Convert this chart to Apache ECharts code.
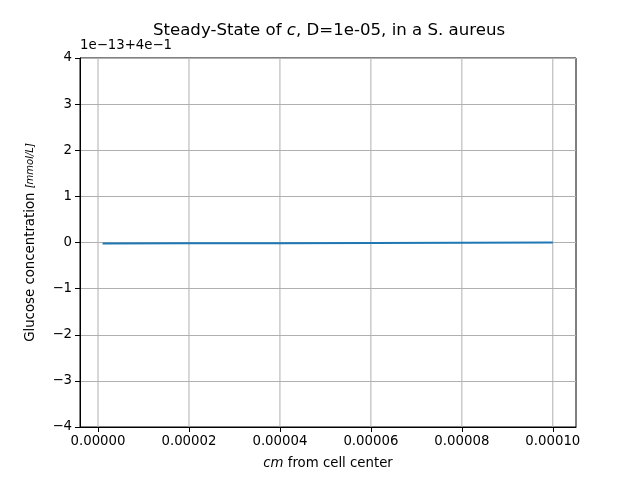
<!DOCTYPE html>
<html>
<head>
<meta charset="utf-8">
<script src="https://cdn.jsdelivr.net/npm/echarts@6/dist/echarts.min.js"></script>
<style>
  html, body { margin: 0; padding: 0; background: #fff; }
  #box { width: 640px; height: 480px; }
</style>
</head>
<body>
<div id="box"></div>
<script>
// distance from cell center (cm)
var xs = [0.000001, 0.00002, 0.00004, 0.00006, 0.00008, 0.0001];
// glucose concentration, in units of 1e-13, offset by 0.4
var cs = [-0.02, -0.018, -0.014, -0.009, -0.004, 0.001];
var xTicks = [0, 0.00002, 0.00004, 0.00006, 0.00008, 0.0001];
var xTickLabels = ['0.00000', '0.00002', '0.00004', '0.00006', '0.00008', '0.00010'];

var font = 'DejaVu Sans';
var yMin = -4, yMax = 4;
var data = [];
for (var i = 0; i < xs.length; i++) {
	data.push([xs[i], cs[i]]);
}

// vertical grid lines at the x ticks
var series = [];
for (var j = 0; j < xTicks.length; j++) {
	series.push({
		type: 'line',
		data: [[xTicks[j], yMin], [xTicks[j], yMax]],
		showSymbol: false,
		silent: true,
		lineStyle: { color: '#b0b0b0', width: 1 },
		z: 1
	});
}
series.push({
	type: 'line',
	data: data,
	showSymbol: false,
	lineStyle: { color: '#1f77b4', width: 2 },
	itemStyle: { color: '#1f77b4' },
	z: 3
});

var myChart = echarts.init(document.getElementById('box'));
var option = {
	animation: false,
	backgroundColor: '#fff',
	title: {
		text: '{n|Steady-State of }{i|c}{n|, D=1e-05, in a S. aureus}',
		left: 324,
		top: 17,
		textAlign: 'center',
		textStyle: {
			fontWeight: 'normal',
			rich: {
				n: { fontFamily: font, fontSize: 16.6, color: '#000', fontWeight: 'normal' },
				i: { fontFamily: font, fontSize: 16.6, color: '#000', fontStyle: 'italic', fontWeight: 'normal' }
			}
		}
	},
	graphic: [{
		type: 'text',
		left: 80,
		top: 39,
		style: { text: '1e\u221213+4e\u22121', font: '13.3px "DejaVu Sans"', fill: '#000' }
	}],
	grid: {
		left: 80, right: 64, top: 58, bottom: 53,
		show: true, borderColor: '#000', borderWidth: 1, backgroundColor: 'transparent'
	},
	xAxis: {
		type: 'value',
		min: -0.00000396,
		max: 0.0001051,
		name: '{i|cm}{n| from cell center}',
		nameLocation: 'middle',
		nameGap: 30,
		nameTextStyle: {
			rich: {
				n: { fontFamily: font, fontSize: 13.3, color: '#000' },
				i: { fontFamily: font, fontSize: 13.3, color: '#000', fontStyle: 'italic' }
			}
		},
		axisLine: { show: true, onZero: false, lineStyle: { color: '#000', width: 1 } },
		axisTick: { show: true, length: 5, customValues: xTicks, lineStyle: { color: '#000' } },
		axisLabel: {
			customValues: xTicks,
			margin: 8,
			fontFamily: font, fontSize: 13.3, color: '#000',
			formatter: function (v) {
				for (var k = 0; k < xTicks.length; k++) {
					if (Math.abs(v - xTicks[k]) < 1e-12) return xTickLabels[k];
				}
				return '';
			}
		},
		splitLine: { show: false }
	},
	yAxis: {
		type: 'value',
		min: yMin,
		max: yMax,
		interval: 1,
		name: '{n|Glucose concentration }{f|[mmol/L]}',
		nameLocation: 'middle',
		nameGap: 43,
		nameTextStyle: {
			rich: {
				n: { fontFamily: font, fontSize: 13.3, color: '#000' },
				f: { fontFamily: font, fontSize: 10, color: '#000', fontStyle: 'italic' }
			}
		},
		axisLine: { show: true, onZero: false, lineStyle: { color: '#000', width: 1 } },
		axisTick: { show: true, length: 5, lineStyle: { color: '#000' } },
		axisLabel: {
			margin: 8,
			fontFamily: font, fontSize: 13.3, color: '#000',
			formatter: function (v) {
				return v < 0 ? '\u2212' + Math.abs(v) : String(v);
			}
		},
		splitLine: { show: true, lineStyle: { color: '#b0b0b0', width: 1 } }
	},
	series: series
};
myChart.setOption(option);
</script>
</body>
</html>
